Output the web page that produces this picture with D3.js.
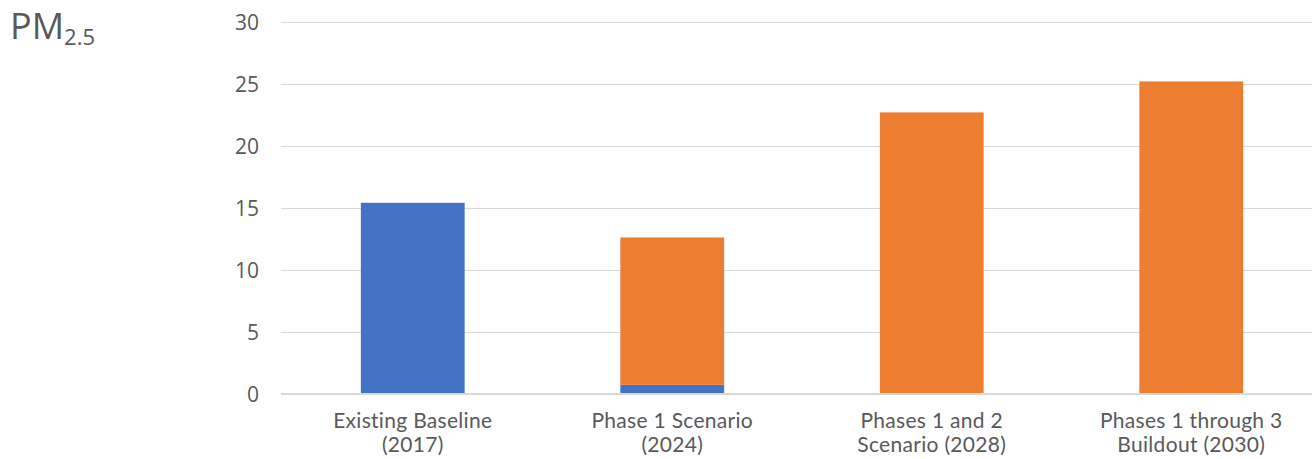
<!DOCTYPE html>
<html>
<head>
<meta charset="utf-8">
<script src="https://cdn.jsdelivr.net/npm/d3@7"></script>
<style>
  html, body { margin: 0; padding: 0; background: #fff; }
  svg { display: block; font-family: "Open Sans", "Noto Sans", sans-serif; }
  svg text { font-family: "Open Sans", "Noto Sans", sans-serif; }
  svg text.cat { font-family: Lato, "Open Sans", sans-serif; }
</style>
</head>
<body>
<svg id="chart" width="1312" height="459"></svg>
<script>
// Scenario categories (two-line labels)
const categories = [
  ["Existing Baseline", "(2017)"],
  ["Phase 1 Scenario", "(2024)"],
  ["Phases 1 and 2", "Scenario (2028)"],
  ["Phases 1 through 3", "Buildout (2030)"]
];
// Stacked series values
const existingValues = [15.4, 0.7, 0, 0];
const projectValues  = [0, 11.9, 22.7, 25.2];
const yTicks = [0, 5, 10, 15, 20, 25, 30];

const colors = { existing: "#4472C4", project: "#ED7D31" };

const svg = d3.select("#chart");
const margin = { left: 283, right: -9, top: 22, bottom: 65.5 };
const W = 1312, H = 459;

const x = d3.scaleBand()
  .domain(d3.range(categories.length))
  .range([margin.left, W - margin.right])
  .padding(0);
const y = d3.scaleLinear().domain([0, 30]).range([H - margin.bottom, margin.top]);

const barW = x.bandwidth() * 0.4;

// gridlines
svg.append("g").selectAll("line")
  .data(yTicks.filter(d => d > 0))
  .join("line")
  .attr("x1", 281).attr("x2", W)
  .attr("y1", d => Math.round(y(d)) + 0.5).attr("y2", d => Math.round(y(d)) + 0.5)
  .attr("stroke", "#D9D9D9").attr("stroke-width", 1);

// y tick labels
const yAxis = d3.axisLeft(y).tickValues(yTicks).tickSize(0).tickPadding(0);
const gy = svg.append("g").attr("transform", "translate(259,0)").call(yAxis)
  .attr("font-family", null).attr("font-size", null);
gy.select(".domain").remove();
gy.selectAll("text")
  .attr("fill", "#595959")
  .style("font-size", "21px")
  .attr("dy", "0.36em");

// stacked bars
const stackData = categories.map((c, i) => ({ i, existing: existingValues[i], project: projectValues[i] }));
const series = d3.stack().keys(["existing", "project"])(stackData);

svg.append("g").selectAll("g")
  .data(series)
  .join("g")
  .attr("fill", s => colors[s.key])
  .selectAll("rect")
  .data(s => s.filter(d => d[1] - d[0] > 0))
  .join("rect")
  .attr("x", d => x(d.data.i) + (x.bandwidth() - barW) / 2)
  .attr("width", barW)
  .attr("y", d => y(d[1]))
  .attr("height", d => y(d[0]) - y(d[1]));

// baseline
svg.append("line")
  .attr("x1", 281).attr("x2", W)
  .attr("y1", y(0) + 0.5).attr("y2", y(0) + 0.5)
  .attr("stroke", "#D9D9D9").attr("stroke-width", 2);

// category labels, one text per line
const xl = svg.append("g");
categories.forEach((lines, i) => {
  lines.forEach((ln, k) => {
    xl.append("text")
      .attr("class", "cat")
      .attr("x", x(i) + x.bandwidth() / 2)
      .attr("y", 428 + k * 24)
      .attr("text-anchor", "middle")
      .attr("fill", "#595959")
      .style("font-size", "21px")
      .style("letter-spacing", "0.3px")
      .text(ln);
  });
});

// title
const title = svg.append("text")
  .attr("x", 10).attr("y", 39)
  .attr("fill", "#595959")
  .style("font-size", "36px");
title.append("tspan").text("PM");
title.append("tspan").attr("dy", 6).style("font-size", "22px").text("2.5");
</script>
</body>
</html>
